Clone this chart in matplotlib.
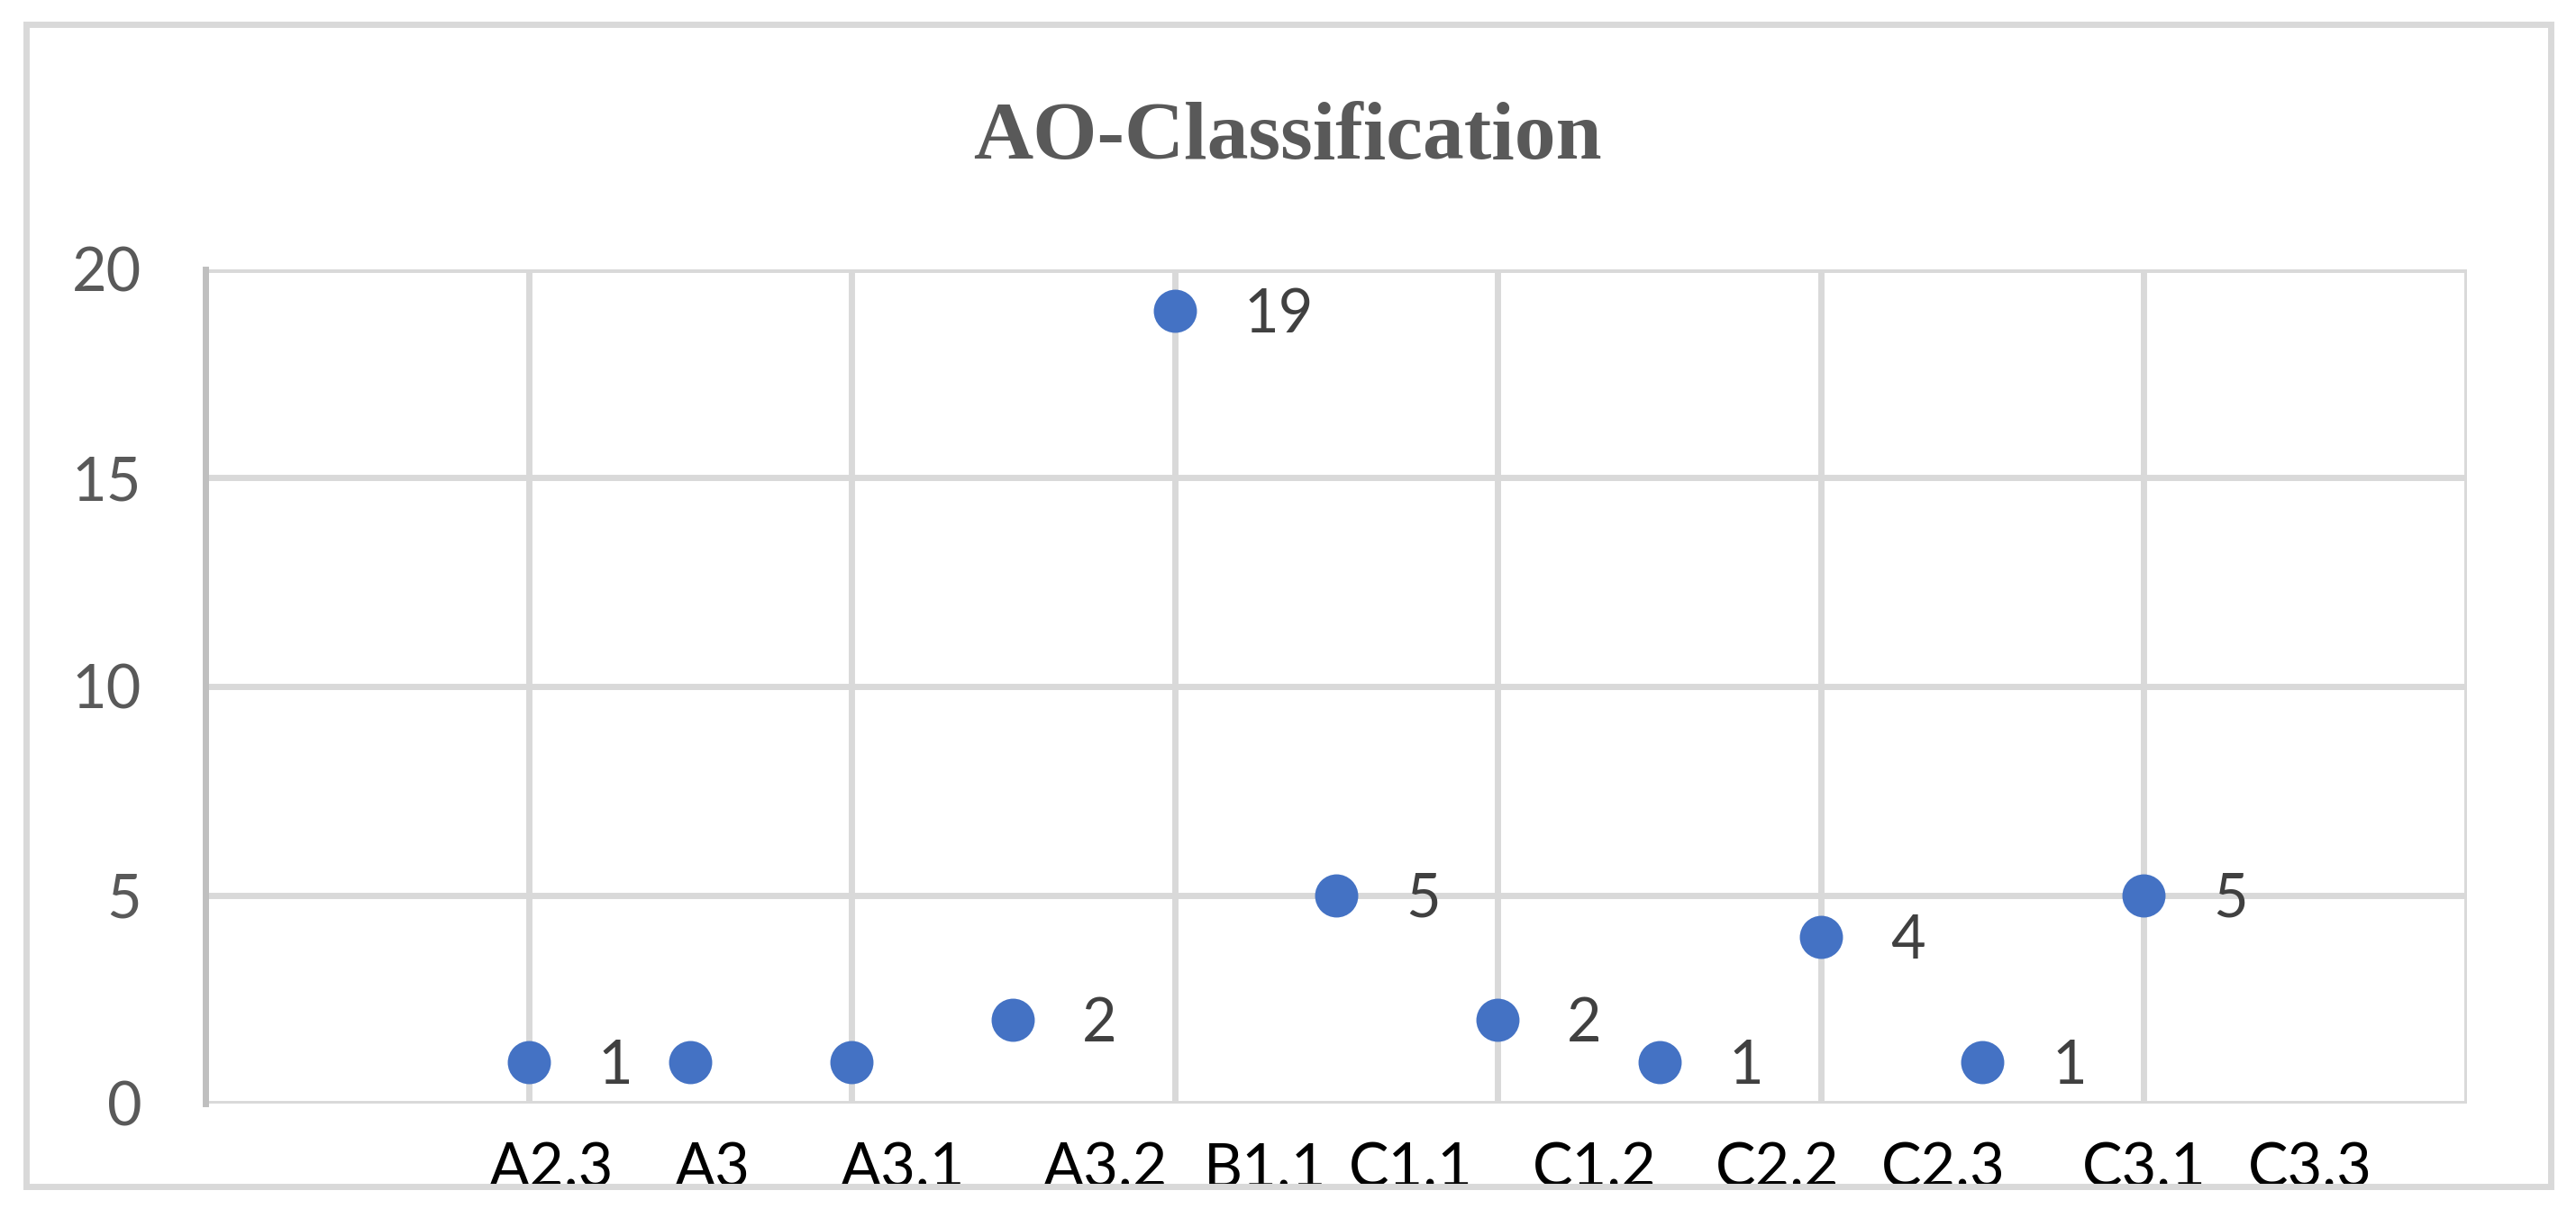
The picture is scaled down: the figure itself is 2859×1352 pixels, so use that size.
"""
AO-Classification dot chart (Excel-style markers with value labels).
"""

import matplotlib
matplotlib.use("Agg")
import matplotlib.pyplot as plt
from matplotlib.patches import Rectangle
from matplotlib.transforms import blended_transform_factory


# ── Data ──────────────────────────────────────────────────────────────────────
point_x      = [2, 3, 4, 5, 6, 7, 8, 9, 10, 11, 12]
point_values = [1, 1, 1, 2, 19, 5, 2, 1, 4, 1, 5]
show_label   = [True, False, False, True, True, True, True, True, True, True, True]

category_labels = ["A2.3", "A3", "A3.1", "A3.2", "B1.1", "C1.1",
                   "C1.2", "C2.2", "C2.3", "C3.1", "C3.3"]
category_pos    = [2.14, 3.14, 4.32, 5.57, 6.56, 7.46,
                   8.60, 9.73, 10.76, 12.0, 13.03]

y_ticks = [0, 5, 10, 15, 20]
x_grid  = [0, 2, 4, 6, 8, 10, 12, 14]

title = "AO-Classification"

# ── Style ─────────────────────────────────────────────────────────────────────
W, H, DPI = 2859, 1352, 100
BLUE      = "#4472C4"
GRID      = "#D9D9D9"
AXIS      = "#BFBFBF"
SANS      = ["Lato", "DejaVu Sans"]
SERIF     = ["Liberation Serif", "DejaVu Serif"]

fig = plt.figure(figsize=(W / DPI, H / DPI), dpi=DPI)
fig.patch.set_facecolor("white")

# outer chart border
fig.patches.append(Rectangle((29 / W, 1 - 1317 / H), (2831 - 29) / W, (1317 - 27) / H,
                             transform=fig.transFigure, fill=False,
                             edgecolor=GRID, linewidth=5, zorder=0))

ax = fig.add_axes([228 / W, 1 - 1225 / H, (2738 - 228) / W, (1225 - 299) / H])
ax.set_xlim(0, 14)
ax.set_ylim(0, 20)

for s in ["top", "right", "bottom"]:
    ax.spines[s].set_visible(False)
ax.spines["left"].set_color(AXIS)
ax.spines["left"].set_linewidth(5)

ax.set_yticks(y_ticks)
ax.set_yticklabels([str(t) for t in y_ticks], fontsize=48, color="#595959", family=SANS)
ax.set_xticks([])
ax.tick_params(axis="y", length=0, pad=51)

for yv in y_ticks:
    ax.axhline(yv, color=GRID, linewidth=5, zorder=1, solid_capstyle="butt")
for xv in x_grid[1:]:
    ax.axvline(xv, color=GRID, linewidth=5, zorder=1, solid_capstyle="butt")

ax.plot(point_x, point_values, linestyle="none", marker="o",
        markersize=34.5, markerfacecolor=BLUE, markeredgewidth=0, zorder=3,
        clip_on=False)

for xv, yv, show in zip(point_x, point_values, show_label):
    if show:
        ax.annotate(str(yv), (xv, yv), xytext=(55.4, -17.3), textcoords="offset points",
                    ha="left", va="baseline", fontsize=48, color="#404040",
                    family=SANS, zorder=4)

# category labels below the axis
trans = blended_transform_factory(ax.transData, ax.transAxes)
for lab, pos in zip(category_labels, category_pos):
    ax.text(pos, (1225 - 1317) / (1225 - 299), lab, transform=trans,
            ha="center", va="baseline", fontsize=48, color="black", family=SANS)

fig.text(0.4998, 1 - 176 / H, title, ha="center", va="baseline",
         fontsize=66, fontweight="bold", color="#595959", family=SERIF)

fig.savefig("out.png", dpi=DPI, facecolor="white")
